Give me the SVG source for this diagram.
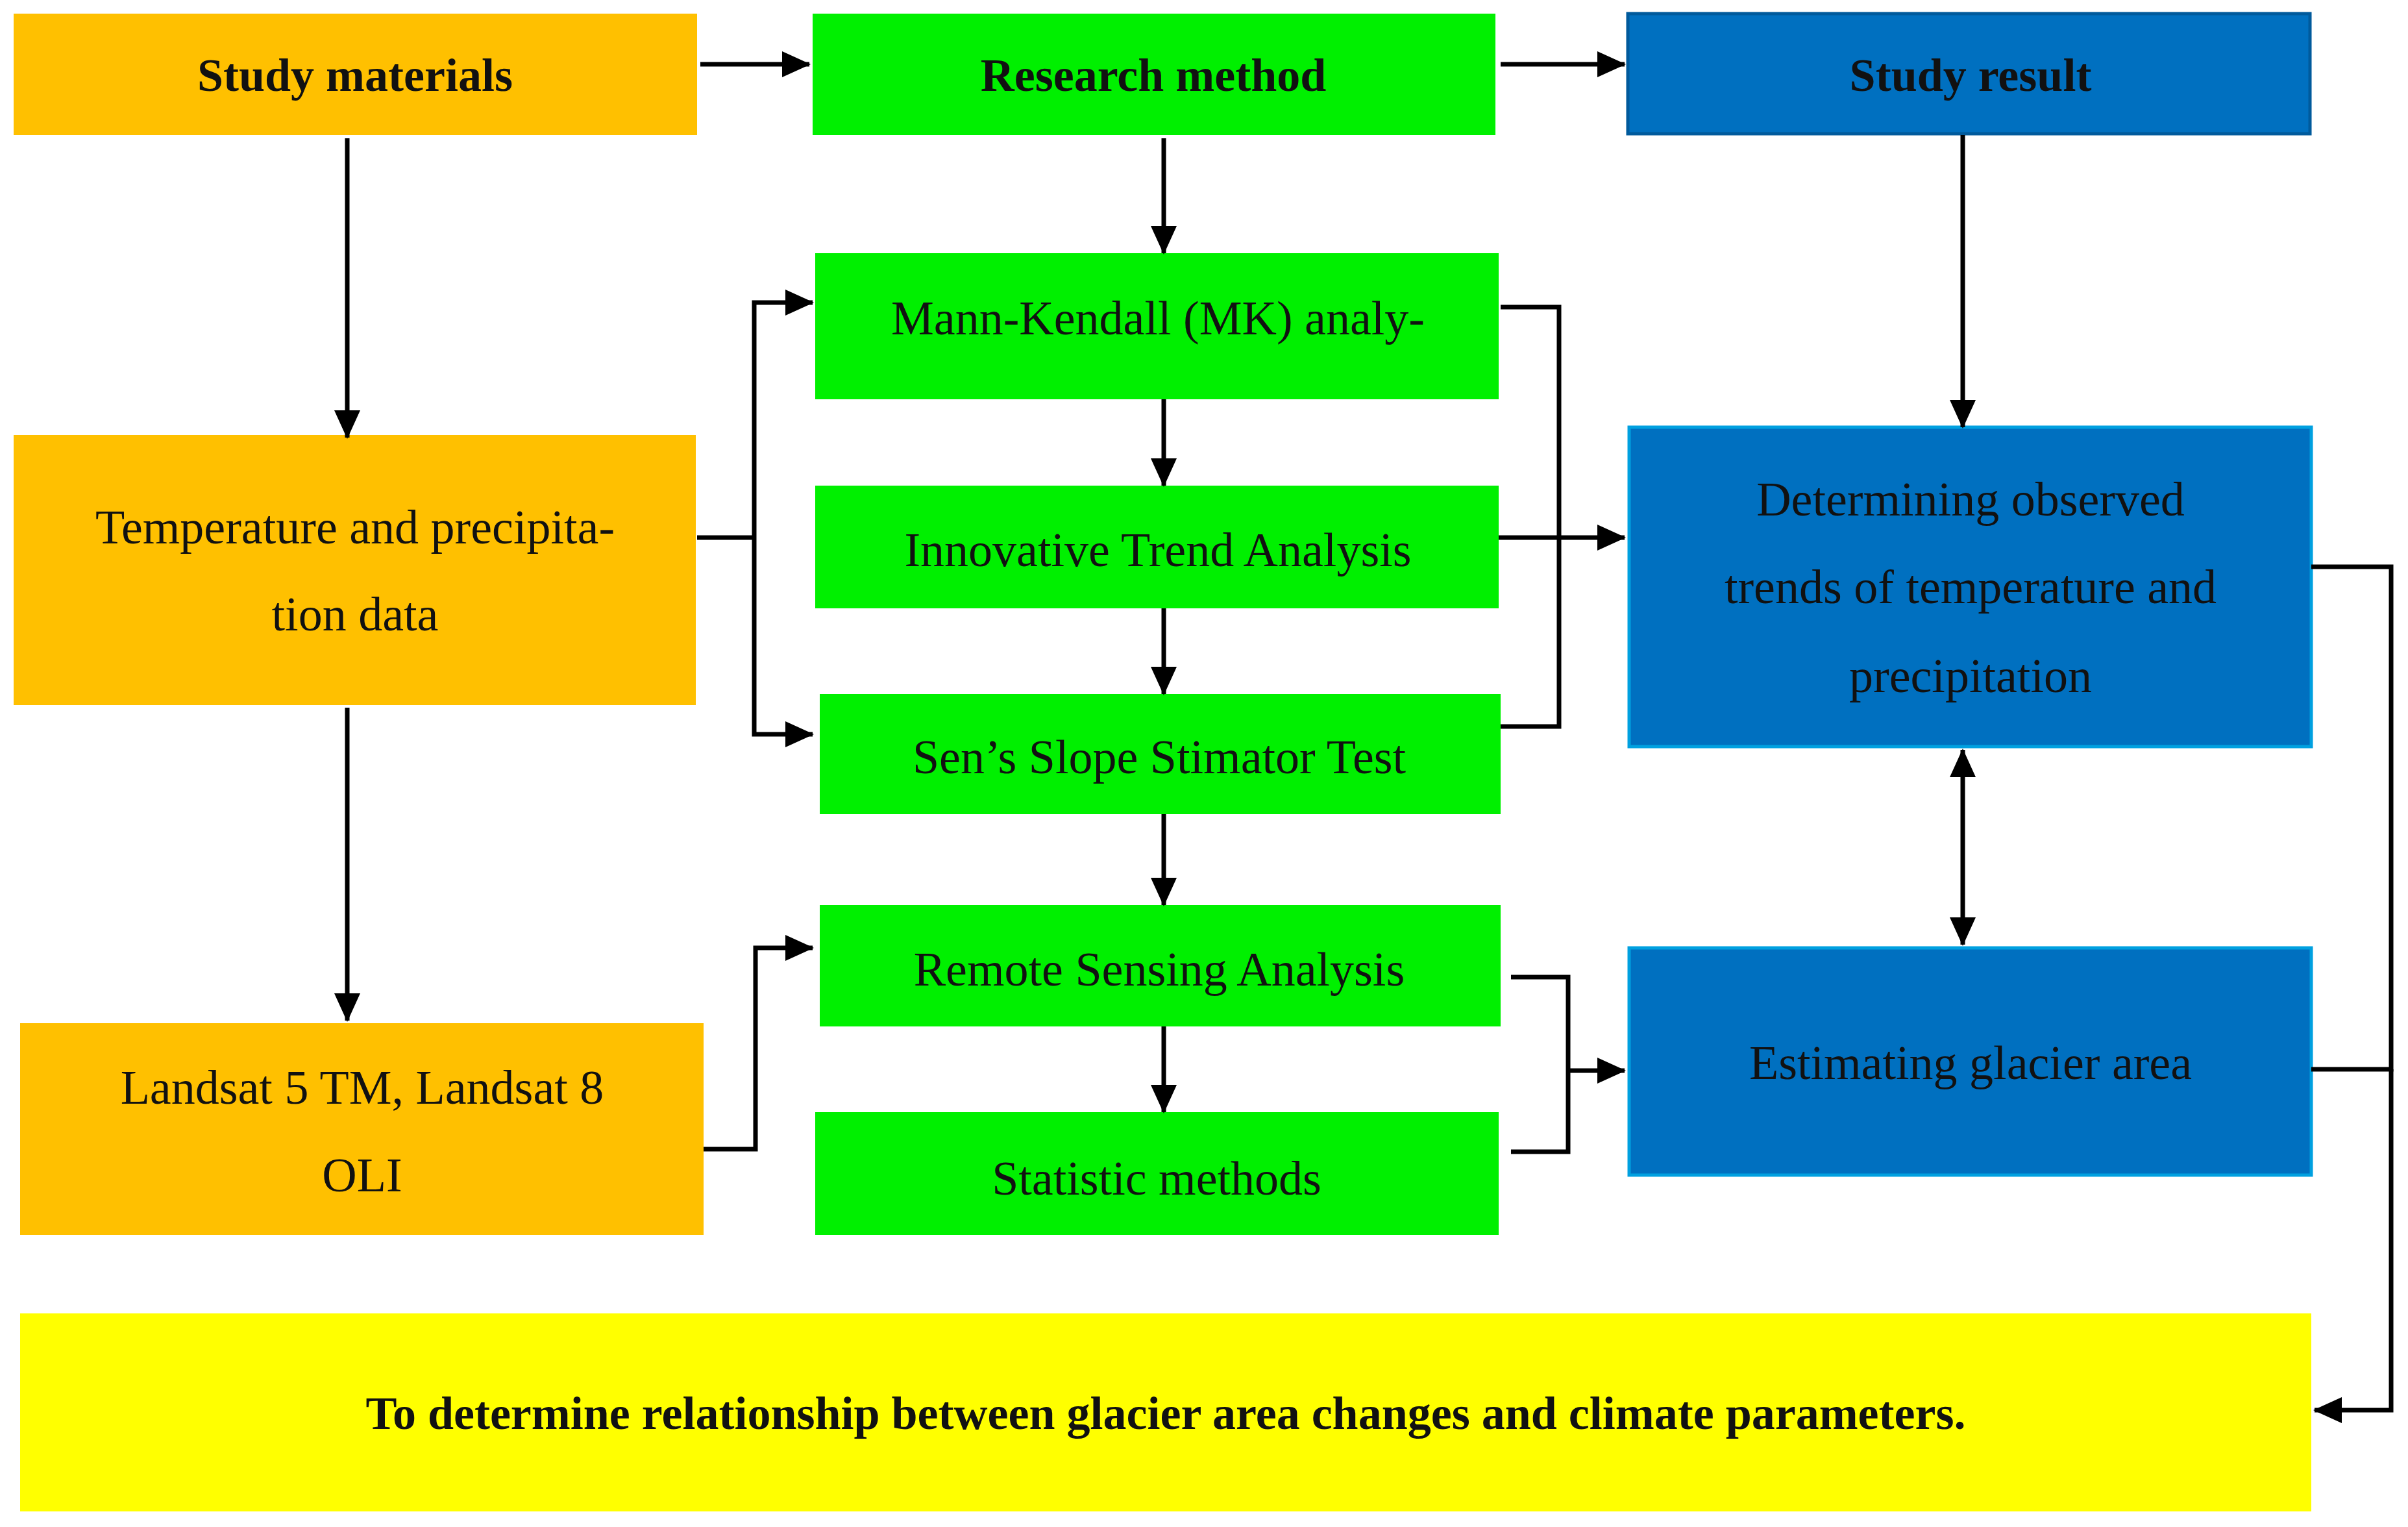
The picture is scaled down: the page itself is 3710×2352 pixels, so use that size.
<svg xmlns="http://www.w3.org/2000/svg" width="3710" height="2352" viewBox="0 0 3710 2352">
<style>
.o{fill:#FFC000}.g{fill:#00F000}.b{fill:#0070C0;stroke:#00A0E0;stroke-width:5}.y{fill:#FFFF00}
text{font-family:"Liberation Serif","Times New Roman",serif;text-anchor:middle;dominant-baseline:central;fill:#111}
.h{font-weight:bold;font-size:72px}.t{font-size:74px}
.c{fill:none;stroke:#000;stroke-width:7}
</style>
<defs><marker id="a" markerUnits="userSpaceOnUse" markerWidth="44" markerHeight="40" refX="42" refY="20" orient="auto-start-reverse"><path d="M0,0L44,20L0,40z" fill="#000"/></marker></defs>
<rect width="3710" height="2352" fill="#fff"/>
<g id="n1"><rect class="o" x="21" y="21" width="1053" height="187"/><text class="h" x="547" y="116">Study materials</text></g>
<g id="n2"><rect class="g" x="1252" y="21" width="1052" height="187"/><text class="h" x="1777" y="116">Research method</text></g>
<g id="n3"><rect class="b" x="2508" y="21" width="1051" height="185" style="stroke:#005A9C"/><text class="h" x="3036" y="116">Study result</text></g>
<g id="n4"><rect class="o" x="21" y="670" width="1051" height="416"/><text class="t" x="547" y="812">Temperature and precipita-</text><text class="t" x="547" y="946">tion data</text></g>
<g id="n5"><rect class="o" x="31" y="1576" width="1053" height="326"/><text class="t" x="558" y="1675">Landsat 5 TM, Landsat 8</text><text class="t" x="558" y="1810">OLI</text></g>
<g id="n6"><rect class="g" x="1256" y="390" width="1053" height="225"/><text class="t" x="1784" y="490">Mann-Kendall (MK) analy-</text></g>
<g id="n7"><rect class="g" x="1256" y="748" width="1053" height="189"/><text class="t" x="1784" y="847">Innovative Trend Analysis</text></g>
<g id="n8"><rect class="g" x="1263" y="1069" width="1049" height="185"/><text class="t" x="1786" y="1166">Sen’s Slope Stimator Test</text></g>
<g id="n9"><rect class="g" x="1263" y="1394" width="1049" height="187"/><text class="t" x="1786" y="1493">Remote Sensing Analysis</text></g>
<g id="n10"><rect class="g" x="1256" y="1713" width="1053" height="189"/><text class="t" x="1782" y="1815">Statistic methods</text></g>
<g id="n11"><rect class="b" x="2510" y="658" width="1051" height="492"/><text class="t" x="3036" y="769">Determining observed</text><text class="t" x="3036" y="904">trends of temperature and</text><text class="t" x="3036" y="1041">precipitation</text></g>
<g id="n12"><rect class="b" x="2510" y="1460" width="1051" height="350"/><text class="t" x="3036" y="1637">Estimating glacier area</text></g>
<g id="n13"><rect class="y" x="31" y="2023" width="3530" height="305"/><text class="h" x="1796" y="2177">To determine relationship between glacier area changes and climate parameters.</text></g>
<g id="connectors">
<path class="c" marker-end="url(#a)" d="M1079,99H1247"/>
<path class="c" marker-end="url(#a)" d="M2312,99H2503"/>
<path class="c" marker-end="url(#a)" d="M535,213V674"/>
<path class="c" marker-end="url(#a)" d="M535,1090V1572"/>
<path class="c" marker-end="url(#a)" d="M1793,213V390"/>
<path class="c" marker-end="url(#a)" d="M3024,208V658"/>
<path class="c" d="M1074,828H1162"/>
<path class="c" marker-start="url(#a)" marker-end="url(#a)" d="M1252,466H1162V1131H1252"/>
<path class="c" marker-end="url(#a)" d="M1793,615V748"/>
<path class="c" marker-end="url(#a)" d="M1793,937V1069"/>
<path class="c" marker-end="url(#a)" d="M1793,1254V1394"/>
<path class="c" marker-end="url(#a)" d="M1793,1581V1713"/>
<path class="c" d="M2312,473H2402V1119H2312"/>
<path class="c" marker-end="url(#a)" d="M2309,828H2503"/>
<path class="c" marker-end="url(#a)" d="M1084,1770H1164V1460H1252"/>
<path class="c" d="M2328,1505H2416V1774H2328"/>
<path class="c" marker-end="url(#a)" d="M2416,1649H2503"/>
<path class="c" marker-start="url(#a)" marker-end="url(#a)" d="M3024,1155V1455"/>
<path class="c" d="M3561,873H3684V1647H3561"/>
<path class="c" marker-end="url(#a)" d="M3684,1647V2172H3566"/>
</g>
</svg>
